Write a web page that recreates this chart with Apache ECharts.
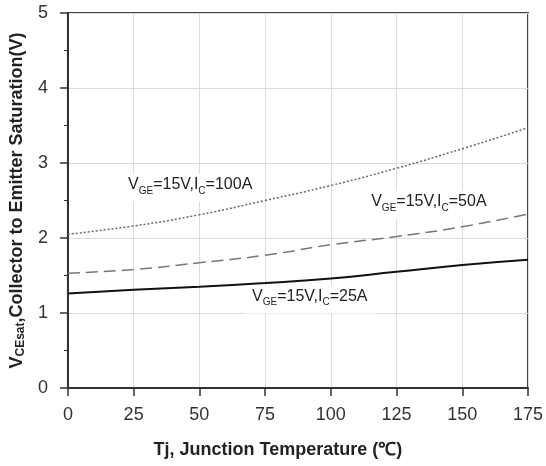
<!DOCTYPE html>
<html>
<head>
<meta charset="utf-8">
<script src="https://cdn.jsdelivr.net/npm/echarts@6/dist/echarts.min.js"></script>
<style>html,body{margin:0;padding:0;background:#fff}#c{width:546px;height:466px}</style>
</head>
<body>
<div id="c"></div>
<script>
var temps = [0, 25, 50, 75, 100, 125, 150, 175];
var ic100 = [2.05, 2.16, 2.31, 2.50, 2.70, 2.93, 3.19, 3.47];
var ic50 = [1.53, 1.58, 1.67, 1.77, 1.91, 2.02, 2.15, 2.32];
var ic25 = [1.26, 1.31, 1.35, 1.40, 1.46, 1.55, 1.64, 1.71];
var labelText = [
  {pos: [46.5, 2.67], txt: '{n|V}{s|GE}{n|=15V,I}{s|C}{n|=100A}'},
  {pos: [137.3, 2.44], txt: '{n|V}{s|GE}{n|=15V,I}{s|C}{n|=50A}'},
  {pos: [92, 1.18], txt: '{n|V}{s|GE}{n|=15V,I}{s|C}{n|=25A}'}
];
var xTitle = 'Tj, Junction Temperature (℃)';
var yTitle = '{b|V}{bs|CEsat}{b|,Collector to Emitter Saturation(V)}';

function pairs(arr){ return temps.map(function(t,i){ return [t, arr[i]]; }); }

var FONT = '"Liberation Sans", Arial, sans-serif';
var rich = {
  n: {fontSize: 16, fontFamily: FONT, color: '#222', lineHeight: 22, verticalAlign: 'middle'},
  s: {fontSize: 10, fontFamily: FONT, color: '#222', lineHeight: 7, verticalAlign: 'bottom'}
};

var chart = echarts.init(document.getElementById('c'), null, {renderer: 'canvas'});
chart.setOption({
  animation: false,
  backgroundColor: '#fff',
  grid: {left: 65, right: 15, top: 13, bottom: 78, show: true, borderColor: '#444', borderWidth: 2, backgroundColor: 'transparent'},
  xAxis: {
    type: 'value', min: 0, max: 175, interval: 25,
    name: xTitle, nameLocation: 'middle', nameGap: 53,
    nameTextStyle: {fontSize: 18, fontWeight: 'bold', fontFamily: FONT, color: '#222', padding: [0, 40, 0, 0]},
    axisLine: {show: true, lineStyle: {color: '#333', width: 2}},
    axisTick: {show: true, length: 8, lineStyle: {color: '#333', width: 1.5}},
    axisLabel: {fontSize: 18, fontFamily: FONT, color: '#333', margin: 18},
    splitLine: {show: true, lineStyle: {color: '#dcdcdc', width: 1}}
  },
  yAxis: {
    type: 'value', min: 0, max: 5, interval: 1,
    name: yTitle, nameLocation: 'middle', nameGap: 38,
    nameTextStyle: {
      rich: {
        b: {fontSize: 18, fontWeight: 'bold', fontFamily: FONT, color: '#222', lineHeight: 20, verticalAlign: 'middle'},
        bs: {fontSize: 12, fontWeight: 'bold', fontFamily: FONT, color: '#222', lineHeight: 8, verticalAlign: 'bottom'}
      }
    },
    axisLine: {show: true, lineStyle: {color: '#333', width: 2}},
    axisTick: {show: true, length: 8, lineStyle: {color: '#333', width: 1.5}},
    minorTick: {show: true, splitNumber: 2, length: 4, lineStyle: {color: '#333', width: 1}},
    axisLabel: {fontSize: 18, fontFamily: FONT, color: '#333', margin: 20},
    splitLine: {show: true, lineStyle: {color: '#dcdcdc', width: 1}}
  },
  series: [
    {type: 'line', data: pairs(ic100), smooth: true, symbol: 'none',
     lineStyle: {color: '#666', width: 1.5, type: [2, 2]}, z: 3},
    {type: 'line', data: pairs(ic50), smooth: true, symbol: 'none',
     lineStyle: {color: '#777', width: 1.5, type: [12, 6]}, z: 3},
    {type: 'line', data: pairs(ic25), smooth: true, symbol: 'none',
     lineStyle: {color: '#111', width: 2}, z: 3,
     markPoint: {
       symbol: 'rect', symbolSize: 0, silent: true, z: 2,
       data: labelText.map(function(l){
         return {coord: l.pos, label: {show: true, position: 'inside', formatter: l.txt, rich: rich,
           backgroundColor: '#fff', padding: [0, 8, 6, 8]}};
       })
     }}
  ]
});
</script>
</body>
</html>
